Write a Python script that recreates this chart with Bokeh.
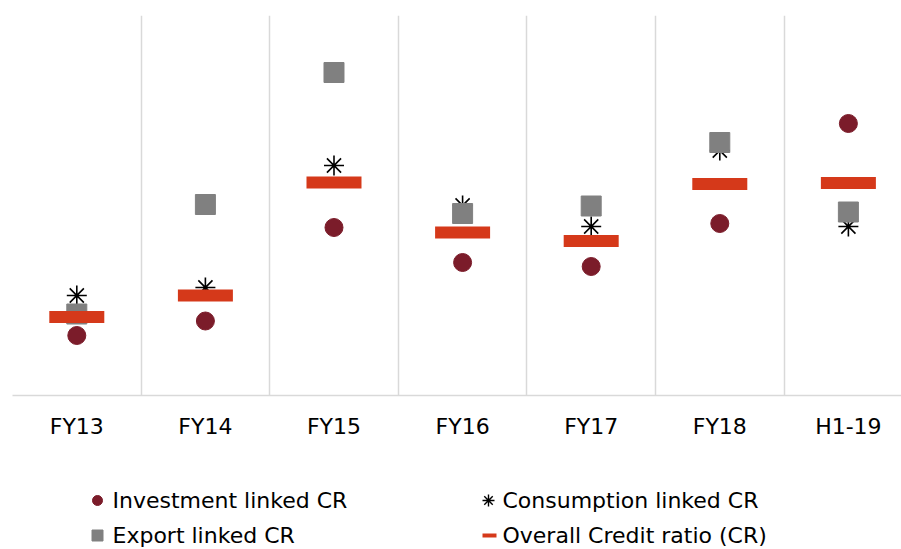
from bokeh.plotting import figure
from bokeh.layouts import column
from bokeh.models import Range1d, FixedTicker, ColumnDataSource
from bokeh.core.properties import value
from bokeh.embed import file_html
from bokeh.resources import INLINE

categories = ["FY13", "FY14", "FY15", "FY16", "FY17", "FY18", "H1-19"]
investment = [0.60, 0.745, 1.68, 1.33, 1.29, 1.72, 2.72]
export = [0.815, 1.91, 3.23, 1.82, 1.895, 2.53, 1.835]
consumption = [1.00, 1.08, 2.30, 1.90, 1.69, 2.45, 1.69]
overall = [0.785, 1.00, 2.13, 1.63, 1.545, 2.115, 2.125]

legend_labels = ["Investment linked CR", "Consumption linked CR",
                 "Export linked CR", "Overall Credit ratio (CR)"]

C_INV = "#7B1C2A"
C_EXP = "#808080"
C_CON = "#000000"
C_OVR = "#D5391A"
GRID = "#D9D9D9"
FONT = "DejaVu Sans"

xs = [i + 0.5 for i in range(len(categories))]
src = ColumnDataSource(dict(x=xs, cat=categories, inv=investment, exp=export,
                            con=consumption, ovr=overall))

p = figure(width=901, height=455, output_backend="svg", toolbar_location=None,
           x_range=Range1d(0, 6.913), y_range=Range1d(0, 3.8),
           min_border_left=12, min_border_right=0, min_border_top=15,
           min_border_bottom=60)
p.outline_line_color = None
p.background_fill_color = "white"
p.border_fill_color = "white"

p.yaxis.visible = False
p.ygrid.grid_line_color = None

p.xaxis.ticker = FixedTicker(ticks=xs)
p.xaxis.major_label_overrides = {x: c for x, c in zip(xs, categories)}
p.xaxis.major_tick_line_color = None
p.xaxis.minor_tick_line_color = None
p.xaxis.axis_line_color = GRID
p.xaxis.axis_line_width = 1.5
p.xaxis.major_label_text_font = FONT
p.xaxis.major_label_text_font_size = "22px"
p.xaxis.major_label_text_color = "#000000"
p.xaxis.major_label_standoff = 12

p.xgrid.ticker = FixedTicker(ticks=list(range(len(categories))))
p.xgrid.grid_line_color = GRID
p.xgrid.grid_line_width = 1.5

p.scatter("x", "inv", source=src, marker="circle", size=18,
          fill_color=C_INV, line_color=C_INV)
p.scatter("x", "con", source=src, marker="asterisk", size=20,
          line_color=C_CON, line_width=1.6)
p.scatter("x", "exp", source=src, marker="square", size=20,
          fill_color=C_EXP, line_color=C_EXP)
p.rect("x", "ovr", source=src, width=55, height=12, width_units="screen",
       height_units="screen", fill_color=C_OVR, line_color=None)

# legend panel (its frame is aligned with the chart frame: x 12..901)
lg = figure(width=901, height=94, output_backend="svg", toolbar_location=None,
            x_range=Range1d(12, 901), y_range=Range1d(549, 455),
            x_axis_location=None, y_axis_location=None,
            min_border=0, min_border_left=12, min_border_right=0,
            min_border_top=0, min_border_bottom=0)
lg.grid.visible = False
lg.outline_line_color = None
lg.background_fill_color = "white"
lg.border_fill_color = "white"

col_x = [97, 488]
row_y = [500, 535]
lg.scatter([col_x[0]], [row_y[0]], marker="circle", size=10,
           fill_color=C_INV, line_color=C_INV)
lg.scatter([col_x[1]], [row_y[0]], marker="asterisk", size=12,
           line_color=C_CON, line_width=1.4)
lg.scatter([col_x[0]], [row_y[1]], marker="square", size=11,
           fill_color=C_EXP, line_color=C_EXP)
lg.rect([col_x[1] + 1], [row_y[1]], width=14, height=4, width_units="screen",
        height_units="screen", fill_color=C_OVR, line_color=None)

lx = [112, 502, 112, 502]
ly = [row_y[0], row_y[0], row_y[1], row_y[1]]
lg.text(lx, ly, text=legend_labels, text_font=value(FONT),
        text_font_size="22px", text_baseline="middle", text_align="left",
        text_color="#000000")

layout = column(p, lg, spacing=0)
open("out.html", "w").write(file_html(layout, INLINE))
